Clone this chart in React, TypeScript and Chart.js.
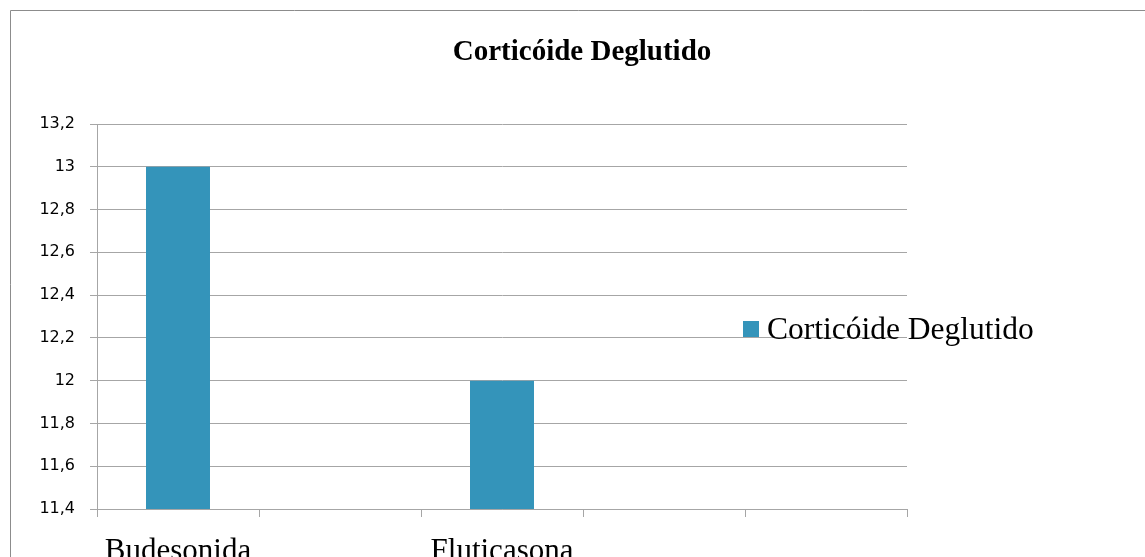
import React, { useEffect, useRef } from "react";
import { Chart, registerables } from "chart.js";

Chart.register(...registerables);

const chartTitle = "Corticóide Deglutido";
const seriesName = "Corticóide Deglutido";
const categories = ["Budesonida", "", "Fluticasona", "", ""];
const values: (number | null)[] = [13, null, 12, null, null];
const yTickValues = [11.4, 11.6, 11.8, 12, 12.2, 12.4, 12.6, 12.8, 13, 13.2];

const BAR_COLOR = "#3494BA";
const GRID_COLOR = "#A6A6A6";

const decorPlugin = {
  id: "decor",
  afterDraw(chart: any) {
    const ctx = chart.ctx as CanvasRenderingContext2D;
    ctx.save();
    // outer frame
    ctx.strokeStyle = "#8C8C8C";
    ctx.lineWidth = 1;
    ctx.beginPath();
    ctx.moveTo(10.5, chart.height + 2);
    ctx.lineTo(10.5, 10.5);
    ctx.lineTo(chart.width + 2, 10.5);
    ctx.stroke();
    // title
    ctx.fillStyle = "#000";
    ctx.font = "bold 29px 'Liberation Serif', serif";
    ctx.textAlign = "center";
    ctx.textBaseline = "alphabetic";
    ctx.fillText(chartTitle, 582, 60);
    // legend
    const ds = chart.data.datasets[0];
    ctx.fillStyle = ds.backgroundColor;
    ctx.fillRect(743, 321, 16, 16);
    ctx.fillStyle = "#000";
    ctx.font = "31.5px 'Liberation Serif', serif";
    ctx.textAlign = "left";
    ctx.fillText(ds.label, 767, 339);
    ctx.restore();
  },
};

export default function App() {
  const ref = useRef<HTMLCanvasElement | null>(null);
  useEffect(() => {
    if (!ref.current) return;
    const chart = new Chart(ref.current, {
      type: "bar",
      data: {
        labels: categories,
        datasets: [
          {
            label: seriesName,
            data: values,
            backgroundColor: BAR_COLOR,
            borderWidth: 0,
            barPercentage: 0.395,
            categoryPercentage: 1,
          },
        ],
      },
      options: {
        animation: false,
        responsive: false,
        maintainAspectRatio: false,
        layout: { padding: { left: 0, top: 124, right: 238, bottom: 0 } },
        plugins: {
          legend: { display: false },
          title: { display: false },
          tooltip: { enabled: false },
        },
        scales: {
          x: {
            offset: true,
            grid: {
              offset: true,
              drawOnChartArea: false,
              drawTicks: true,
              tickLength: 8,
              color: GRID_COLOR,
            },
            border: { display: true, color: GRID_COLOR },
            ticks: {
              autoSkip: false,
              maxRotation: 0,
              color: "#000",
              padding: 16,
              font: { family: "'Liberation Serif', serif", size: 31 },
            },
            afterFit(scale: any) {
              scale.height = 48;
            },
          },
          y: {
            min: 11.4,
            max: 13.2,
            grid: { color: GRID_COLOR, tickLength: 7 },
            border: { display: true, color: GRID_COLOR },
            afterBuildTicks(scale: any) {
              scale.ticks = yTickValues.map((v) => ({ value: v }));
            },
            ticks: {
              color: "#000",
              padding: 15,
              font: { family: "'DejaVu Sans', sans-serif", size: 16 },
              callback: (v: any) => String(Math.round(Number(v) * 10) / 10).replace(".", ","),
            },
            afterFit(scale: any) {
              scale.width = 97;
            },
          },
        },
      },
      plugins: [decorPlugin],
    });
    return () => chart.destroy();
  }, []);
  return (
    <div style={{ position: "fixed", left: 0, top: 0, width: 1145, height: 557, background: "#fff" }}>
      <canvas ref={ref} width={1145} height={557} style={{ display: "block" }} />
    </div>
  );
}
